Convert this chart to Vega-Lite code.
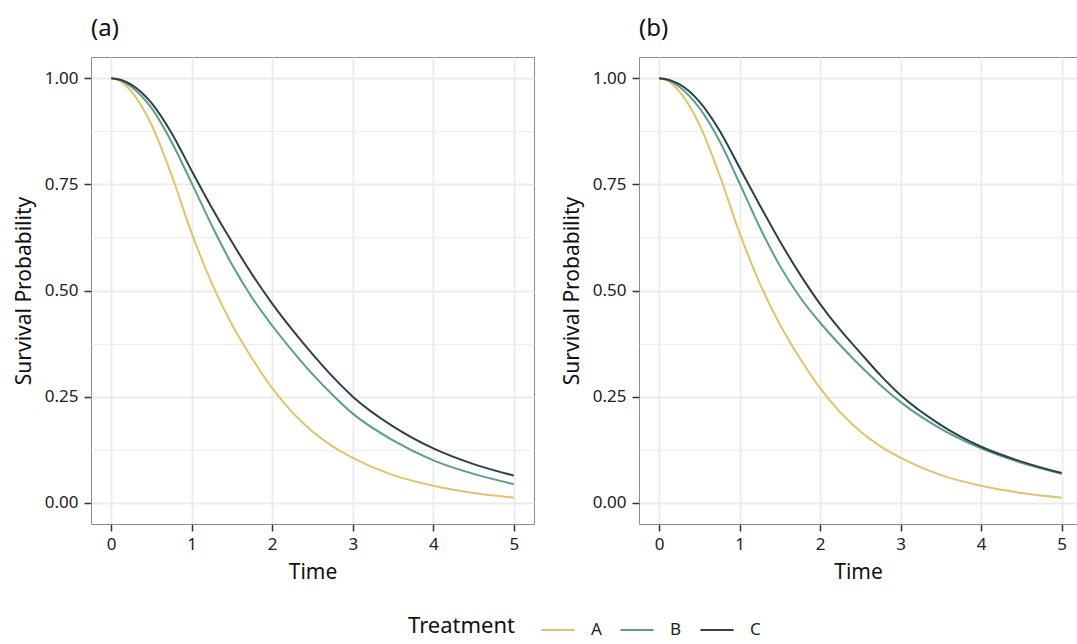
{
  "$schema": "https://vega.github.io/schema/vega-lite/v6.json",
  "background": "white",
  "padding": {"left": 12, "top": 16, "right": 0, "bottom": 0},
  "datasets": {
    "curves": [
      {"panel":"a","Treatment":"A","Time":0,"Survival":1},
      {"panel":"a","Treatment":"A","Time":0.125,"Survival":0.992},
      {"panel":"a","Treatment":"A","Time":0.25,"Survival":0.969},
      {"panel":"a","Treatment":"A","Time":0.5,"Survival":0.891},
      {"panel":"a","Treatment":"A","Time":0.75,"Survival":0.772},
      {"panel":"a","Treatment":"A","Time":1,"Survival":0.635},
      {"panel":"a","Treatment":"A","Time":1.25,"Survival":0.517},
      {"panel":"a","Treatment":"A","Time":1.5,"Survival":0.42},
      {"panel":"a","Treatment":"A","Time":1.75,"Survival":0.34},
      {"panel":"a","Treatment":"A","Time":2,"Survival":0.27},
      {"panel":"a","Treatment":"A","Time":2.25,"Survival":0.213},
      {"panel":"a","Treatment":"A","Time":2.5,"Survival":0.168},
      {"panel":"a","Treatment":"A","Time":2.75,"Survival":0.133},
      {"panel":"a","Treatment":"A","Time":3,"Survival":0.106},
      {"panel":"a","Treatment":"A","Time":3.5,"Survival":0.065},
      {"panel":"a","Treatment":"A","Time":4,"Survival":0.04},
      {"panel":"a","Treatment":"A","Time":4.5,"Survival":0.023},
      {"panel":"a","Treatment":"A","Time":5,"Survival":0.012},
      {"panel":"a","Treatment":"B","Time":0,"Survival":1},
      {"panel":"a","Treatment":"B","Time":0.125,"Survival":0.995},
      {"panel":"a","Treatment":"B","Time":0.25,"Survival":0.98},
      {"panel":"a","Treatment":"B","Time":0.5,"Survival":0.93},
      {"panel":"a","Treatment":"B","Time":0.75,"Survival":0.85},
      {"panel":"a","Treatment":"B","Time":1,"Survival":0.753},
      {"panel":"a","Treatment":"B","Time":1.25,"Survival":0.653},
      {"panel":"a","Treatment":"B","Time":1.5,"Survival":0.561},
      {"panel":"a","Treatment":"B","Time":1.75,"Survival":0.483},
      {"panel":"a","Treatment":"B","Time":2,"Survival":0.417},
      {"panel":"a","Treatment":"B","Time":2.25,"Survival":0.358},
      {"panel":"a","Treatment":"B","Time":2.5,"Survival":0.303},
      {"panel":"a","Treatment":"B","Time":2.75,"Survival":0.254},
      {"panel":"a","Treatment":"B","Time":3,"Survival":0.21},
      {"panel":"a","Treatment":"B","Time":3.5,"Survival":0.147},
      {"panel":"a","Treatment":"B","Time":4,"Survival":0.1},
      {"panel":"a","Treatment":"B","Time":4.5,"Survival":0.068},
      {"panel":"a","Treatment":"B","Time":5,"Survival":0.044},
      {"panel":"a","Treatment":"C","Time":0,"Survival":1},
      {"panel":"a","Treatment":"C","Time":0.125,"Survival":0.996},
      {"panel":"a","Treatment":"C","Time":0.25,"Survival":0.985},
      {"panel":"a","Treatment":"C","Time":0.5,"Survival":0.942},
      {"panel":"a","Treatment":"C","Time":0.75,"Survival":0.871},
      {"panel":"a","Treatment":"C","Time":1,"Survival":0.782},
      {"panel":"a","Treatment":"C","Time":1.25,"Survival":0.695},
      {"panel":"a","Treatment":"C","Time":1.5,"Survival":0.614},
      {"panel":"a","Treatment":"C","Time":1.75,"Survival":0.538},
      {"panel":"a","Treatment":"C","Time":2,"Survival":0.469},
      {"panel":"a","Treatment":"C","Time":2.25,"Survival":0.407},
      {"panel":"a","Treatment":"C","Time":2.5,"Survival":0.35},
      {"panel":"a","Treatment":"C","Time":2.75,"Survival":0.297},
      {"panel":"a","Treatment":"C","Time":3,"Survival":0.25},
      {"panel":"a","Treatment":"C","Time":3.5,"Survival":0.18},
      {"panel":"a","Treatment":"C","Time":4,"Survival":0.128},
      {"panel":"a","Treatment":"C","Time":4.5,"Survival":0.091},
      {"panel":"a","Treatment":"C","Time":5,"Survival":0.064},
      {"panel":"b","Treatment":"A","Time":0,"Survival":1},
      {"panel":"b","Treatment":"A","Time":0.125,"Survival":0.992},
      {"panel":"b","Treatment":"A","Time":0.25,"Survival":0.969},
      {"panel":"b","Treatment":"A","Time":0.5,"Survival":0.891},
      {"panel":"b","Treatment":"A","Time":0.75,"Survival":0.772},
      {"panel":"b","Treatment":"A","Time":1,"Survival":0.635},
      {"panel":"b","Treatment":"A","Time":1.25,"Survival":0.517},
      {"panel":"b","Treatment":"A","Time":1.5,"Survival":0.42},
      {"panel":"b","Treatment":"A","Time":1.75,"Survival":0.34},
      {"panel":"b","Treatment":"A","Time":2,"Survival":0.27},
      {"panel":"b","Treatment":"A","Time":2.25,"Survival":0.213},
      {"panel":"b","Treatment":"A","Time":2.5,"Survival":0.168},
      {"panel":"b","Treatment":"A","Time":2.75,"Survival":0.133},
      {"panel":"b","Treatment":"A","Time":3,"Survival":0.106},
      {"panel":"b","Treatment":"A","Time":3.5,"Survival":0.065},
      {"panel":"b","Treatment":"A","Time":4,"Survival":0.04},
      {"panel":"b","Treatment":"A","Time":4.5,"Survival":0.023},
      {"panel":"b","Treatment":"A","Time":5,"Survival":0.012},
      {"panel":"b","Treatment":"B","Time":0,"Survival":1},
      {"panel":"b","Treatment":"B","Time":0.125,"Survival":0.995},
      {"panel":"b","Treatment":"B","Time":0.25,"Survival":0.98},
      {"panel":"b","Treatment":"B","Time":0.5,"Survival":0.93},
      {"panel":"b","Treatment":"B","Time":0.75,"Survival":0.852},
      {"panel":"b","Treatment":"B","Time":1,"Survival":0.752},
      {"panel":"b","Treatment":"B","Time":1.25,"Survival":0.649},
      {"panel":"b","Treatment":"B","Time":1.5,"Survival":0.558},
      {"panel":"b","Treatment":"B","Time":1.75,"Survival":0.484},
      {"panel":"b","Treatment":"B","Time":2,"Survival":0.424},
      {"panel":"b","Treatment":"B","Time":2.25,"Survival":0.371},
      {"panel":"b","Treatment":"B","Time":2.5,"Survival":0.322},
      {"panel":"b","Treatment":"B","Time":2.75,"Survival":0.277},
      {"panel":"b","Treatment":"B","Time":3,"Survival":0.237},
      {"panel":"b","Treatment":"B","Time":3.5,"Survival":0.174},
      {"panel":"b","Treatment":"B","Time":4,"Survival":0.128},
      {"panel":"b","Treatment":"B","Time":4.5,"Survival":0.094},
      {"panel":"b","Treatment":"B","Time":5,"Survival":0.068},
      {"panel":"b","Treatment":"C","Time":0,"Survival":1},
      {"panel":"b","Treatment":"C","Time":0.125,"Survival":0.996},
      {"panel":"b","Treatment":"C","Time":0.25,"Survival":0.986},
      {"panel":"b","Treatment":"C","Time":0.5,"Survival":0.945},
      {"panel":"b","Treatment":"C","Time":0.75,"Survival":0.877},
      {"panel":"b","Treatment":"C","Time":1,"Survival":0.789},
      {"panel":"b","Treatment":"C","Time":1.25,"Survival":0.701},
      {"panel":"b","Treatment":"C","Time":1.5,"Survival":0.616},
      {"panel":"b","Treatment":"C","Time":1.75,"Survival":0.538},
      {"panel":"b","Treatment":"C","Time":2,"Survival":0.468},
      {"panel":"b","Treatment":"C","Time":2.25,"Survival":0.407},
      {"panel":"b","Treatment":"C","Time":2.5,"Survival":0.353},
      {"panel":"b","Treatment":"C","Time":2.75,"Survival":0.3},
      {"panel":"b","Treatment":"C","Time":3,"Survival":0.253},
      {"panel":"b","Treatment":"C","Time":3.5,"Survival":0.183},
      {"panel":"b","Treatment":"C","Time":4,"Survival":0.132},
      {"panel":"b","Treatment":"C","Time":4.5,"Survival":0.097},
      {"panel":"b","Treatment":"C","Time":5,"Survival":0.07}
    ]
  },
  "config": {
    "font": "Noto Sans",
    "view": {"stroke": "#8c8c8c", "strokeWidth": 1},
    "axis": {
      "domain": false,
      "labelFont": "Noto Sans",
      "labelFontSize": 17,
      "labelColor": "#222222",
      "tickColor": "#333333",
      "tickSize": 7,
      "tickWidth": 1.5,
      "titleFont": "Noto Sans",
      "titleFontSize": 21,
      "titleFontWeight": "normal",
      "titleColor": "#111111",
      "gridColor": "#ebebeb"
    },
    "legend": {
      "labelFont": "Noto Sans",
      "titleFont": "Noto Sans",
      "labelFontSize": 17,
      "titleFontSize": 22,
      "titleFontWeight": "normal",
      "labelColor": "#222222",
      "titleColor": "#111111"
    },
    "title": {"font": "Noto Sans", "fontSize": 24, "fontWeight": "normal", "color": "#111111"}
  },
  "spacing": 25,
  "hconcat": [
    {
      "title": {"text": "(a)", "anchor": "start", "frame": "group", "offset": 16},
      "width": 443,
      "height": 467,
      "data": {"name": "curves"},
      "transform": [{"filter": "datum.panel === 'a'"}],
      "mark": {"type": "line", "strokeWidth": 2, "interpolate": "monotone"},
      "encoding": {
        "x": {
          "field": "Time", "type": "quantitative",
          "scale": {"domain": [-0.25, 5.25], "nice": false, "zero": false},
          "axis": {
            "title": "Time",
            "values": [0, 0.5, 1, 1.5, 2, 2.5, 3, 3.5, 4, 4.5, 5],
            "format": "d",
            "labelExpr": "datum.value % 1 === 0 ? datum.label : ''",
            "gridWidth": {"condition": {"test": "datum.value % 1 === 0", "value": 1.8}, "value": 0.9},
            "tickOpacity": {"condition": {"test": "datum.value % 1 === 0", "value": 1}, "value": 0},
            "labelPadding": 5,
            "titlePadding": 9
          }
        },
        "y": {
          "field": "Survival", "type": "quantitative",
          "scale": {"domain": [-0.05, 1.05], "nice": false, "zero": false},
          "axis": {
            "title": "Survival Probability",
            "values": [0, 0.125, 0.25, 0.375, 0.5, 0.625, 0.75, 0.875, 1],
            "format": ".2f",
            "labelExpr": "(datum.value * 4) % 1 === 0 ? datum.label : ''",
            "gridWidth": {"condition": {"test": "(datum.value * 4) % 1 === 0", "value": 1.8}, "value": 0.9},
            "tickOpacity": {"condition": {"test": "(datum.value * 4) % 1 === 0", "value": 1}, "value": 0},
            "labelPadding": 6,
            "titlePadding": 10
          }
        },
        "color": {
          "field": "Treatment", "type": "nominal",
          "scale": {"domain": ["A", "B", "C"], "range": ["#e0c46c", "#5e9e88", "#2f3f4d"]},
          "legend": {
            "orient": "none",
            "legendX": 317,
            "legendY": 555,
            "direction": "horizontal",
            "titleOrient": "left",
            "titleAnchor": "end",
            "titleBaseline": "bottom",
            "title": "Treatment",
            "symbolType": "stroke",
            "symbolSize": 1100,
            "symbolStrokeWidth": 2,
            "columnPadding": 14,
            "labelOffset": 15,
            "titlePadding": 25
          }
        }
      }
    },
    {
      "title": {"text": "(b)", "anchor": "start", "frame": "group", "offset": 16},
      "width": 438,
      "height": 467,
      "data": {"name": "curves"},
      "transform": [{"filter": "datum.panel === 'b'"}],
      "mark": {"type": "line", "strokeWidth": 2, "interpolate": "monotone"},
      "encoding": {
        "x": {
          "field": "Time", "type": "quantitative",
          "scale": {"domain": [-0.25, 5.19], "nice": false, "zero": false},
          "axis": {
            "title": "Time",
            "values": [0, 0.5, 1, 1.5, 2, 2.5, 3, 3.5, 4, 4.5, 5],
            "format": "d",
            "labelExpr": "datum.value % 1 === 0 ? datum.label : ''",
            "gridWidth": {"condition": {"test": "datum.value % 1 === 0", "value": 1.8}, "value": 0.9},
            "tickOpacity": {"condition": {"test": "datum.value % 1 === 0", "value": 1}, "value": 0},
            "labelPadding": 5,
            "titlePadding": 9
          }
        },
        "y": {
          "field": "Survival", "type": "quantitative",
          "scale": {"domain": [-0.05, 1.05], "nice": false, "zero": false},
          "axis": {
            "title": "Survival Probability",
            "values": [0, 0.125, 0.25, 0.375, 0.5, 0.625, 0.75, 0.875, 1],
            "format": ".2f",
            "labelExpr": "(datum.value * 4) % 1 === 0 ? datum.label : ''",
            "gridWidth": {"condition": {"test": "(datum.value * 4) % 1 === 0", "value": 1.8}, "value": 0.9},
            "tickOpacity": {"condition": {"test": "(datum.value * 4) % 1 === 0", "value": 1}, "value": 0},
            "labelPadding": 6,
            "titlePadding": 10
          }
        },
        "color": {
          "field": "Treatment", "type": "nominal",
          "scale": {"domain": ["A", "B", "C"], "range": ["#e0c46c", "#5e9e88", "#2f3f4d"]}
        }
      }
    }
  ]
}
